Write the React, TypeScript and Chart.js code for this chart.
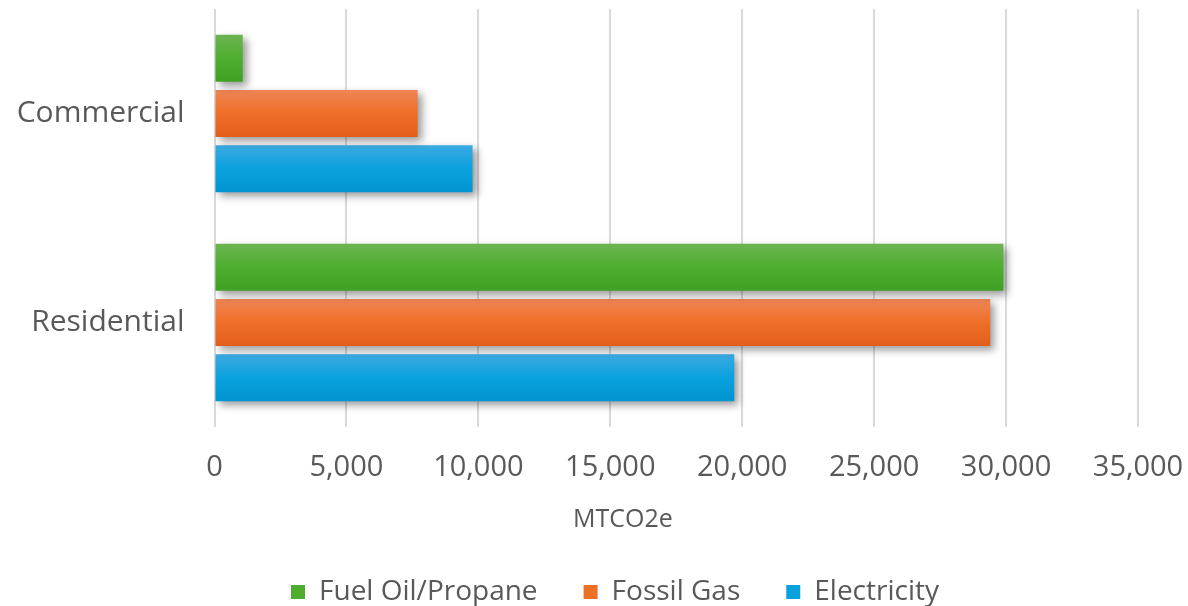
import React, { useEffect, useRef } from "react";
import { Chart, registerables } from "chart.js";

Chart.register(...registerables);

// Emissions by sector and fuel source (MTCO2e)
const sectors = ["Commercial", "Residential"];
const fuelOilPropane = [1070, 29900];
const fossilGas = [7700, 29400];
const electricity = [9780, 19700];

const xTicks = [0, 5000, 10000, 15000, 20000, 25000, 30000, 35000];
const axisTitle = "MTCO2e";

const FONT = "'Open Sans', Roboto, sans-serif";
const TEXT = "#595959";

// top / middle / bottom shades of each series' bar gradient
const shades: Record<string, [string, string, string]> = {
  "Fuel Oil/Propane": ["#6cb452", "#4dae2e", "#40a023"],
  "Fossil Gas": ["#ee8556", "#f06f27", "#e05e1b"],
  Electricity: ["#3ca9e1", "#0aa2de", "#0094d0"],
};

// vertical gradient on every bar plus a soft drop shadow
const barStyle: any = {
  id: "barStyle",
  beforeDatasetsDraw(chart: any) {
    const ctx = chart.ctx;
    chart.data.datasets.forEach((ds: any, i: number) => {
      const meta = chart.getDatasetMeta(i);
      const c = shades[ds.label];
      meta.data.forEach((el: any) => {
        const top = el.y - el.height / 2;
        const bottom = el.y + el.height / 2;
        const g = ctx.createLinearGradient(0, top, 0, bottom);
        g.addColorStop(0, c[0]);
        g.addColorStop(0.5, c[1]);
        g.addColorStop(1, c[2]);
        el.options = Object.assign({}, el.options, { backgroundColor: g });
      });
    });
  },
  beforeDatasetDraw(chart: any) {
    const ctx = chart.ctx;
    ctx.save();
    ctx.shadowColor = "rgba(0,0,0,0.4)";
    ctx.shadowBlur = 8;
    ctx.shadowOffsetX = 4;
    ctx.shadowOffsetY = 4;
  },
  afterDatasetDraw(chart: any) {
    chart.ctx.restore();
  },
};

// legend row sits a little right of the canvas centre
const legendShift: any = {
  id: "legendShift",
  afterLayout(chart: any) {
    chart.legend.left += 42;
  },
};

// value-axis title, set a little right of the legend's centre line
const axisTitlePlugin: any = {
  id: "axisTitle",
  afterDraw(chart: any) {
    const ctx = chart.ctx;
    const lg = chart.legend;
    ctx.save();
    ctx.font = `25px ${FONT}`;
    ctx.fillStyle = TEXT;
    ctx.textAlign = "center";
    ctx.textBaseline = "middle";
    ctx.fillText(axisTitle, (lg.left + lg.right) / 2 + 8, chart.chartArea.bottom + 93);
    ctx.restore();
  },
};

export default function App() {
  const ref = useRef<HTMLCanvasElement>(null);

  useEffect(() => {
    document.body.style.margin = "0";
    const common = { barPercentage: 0.855, categoryPercentage: 0.793 };
    const chart = new Chart(ref.current!, {
      type: "bar",
      data: {
        labels: sectors,
        datasets: [
          { label: "Fuel Oil/Propane", data: fuelOilPropane, backgroundColor: shades["Fuel Oil/Propane"][1], ...common },
          { label: "Fossil Gas", data: fossilGas, backgroundColor: shades["Fossil Gas"][1], ...common },
          { label: "Electricity", data: electricity, backgroundColor: shades.Electricity[1], ...common },
        ],
      },
      options: {
        indexAxis: "y",
        animation: false,
        responsive: true,
        maintainAspectRatio: false,
        layout: { padding: { top: 9, left: 0, right: 0, bottom: -10 } },
        scales: {
          x: {
            min: 0,
            max: 35000,
            afterBuildTicks: (s: any) => {
              s.ticks = xTicks.map((v) => ({ value: v }));
            },
            afterFit: (s: any) => {
              s.height = 105;
              s.paddingLeft = 0;
              s.paddingRight = 50;
            },
            grid: { color: "#d9d9d9", lineWidth: 2, drawTicks: false },
            border: { display: false },
            ticks: {
              color: TEXT,
              font: { family: FONT, size: 29 },
              padding: 23,
              callback: (v: any) => Number(v).toLocaleString("en-US"),
            },
          },
          y: {
            grid: { display: false, drawTicks: false },
            border: { display: false },
            afterFit: (s: any) => {
              s.width = 214.5;
              s.paddingTop = 0;
              s.paddingBottom = 0;
            },
            ticks: {
              color: TEXT,
              font: { family: FONT, size: 30 },
              padding: 30,
            },
          },
        },
        plugins: {
          legend: {
            position: "bottom",
            labels: {
              color: TEXT,
              font: { family: FONT, size: 28 },
              boxWidth: 14,
              boxHeight: 14,
              padding: 46,
            },
          },
          tooltip: { enabled: false },
        },
      },
      plugins: [barStyle, legendShift, axisTitlePlugin],
    });
    return () => chart.destroy();
  }, []);

  return (
    <div style={{ position: "relative", width: 1188, height: 606, background: "#fff" }}>
      <canvas ref={ref} />
    </div>
  );
}
